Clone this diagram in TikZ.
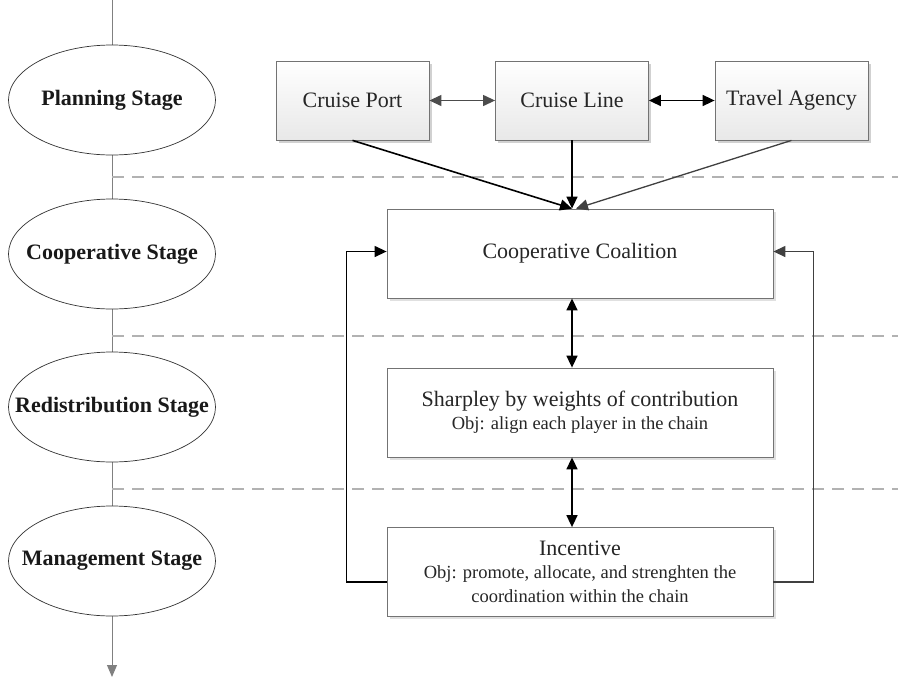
\documentclass[tikz,border=0pt]{standalone}
\usepackage{fontspec}
\setmainfont{Liberation Serif}
\usetikzlibrary{arrows.meta,shapes.geometric,shadows}

\newcommand{\objtext}{\fontsize{18.5}{24.5}\selectfont}

\begin{document}
\begin{tikzpicture}[x=1pt, y=-1pt,
  every node/.style={font=\fontsize{22}{25}\selectfont, text=black!85},
  stage/.style={ellipse, draw=black!80, fill=white, line width=0.7pt,
    minimum width=207pt, minimum height=110pt, inner sep=0pt},
  stagetext/.style={font=\bfseries\fontsize{22}{25}\selectfont, text=black!90},
  party/.style={draw=black!55, line width=0.8pt, top color=white, bottom color=black!9,
    minimum width=153pt, minimum height=79pt,
    drop shadow={shadow xshift=2.5pt, shadow yshift=-2.5pt, fill=black!18, opacity=1}},
  block/.style={draw=black!55, line width=0.8pt, fill=white, align=center,
    minimum width=386pt, minimum height=89pt,
    drop shadow={shadow xshift=2.5pt, shadow yshift=-2.5pt, fill=black!12, opacity=1}},
  link/.style={-{Triangle[length=12pt,width=11pt]}, line width=1.6pt},
  twoway/.style={{Triangle[length=12pt,width=11pt]}-{Triangle[length=12pt,width=11pt]}, line width=1.6pt},
  timeline/.style={draw=black!50, line width=1pt},
  sep/.style={draw=black!30, line width=1.2pt, dash pattern=on 12pt off 8pt}]

  \useasboundingbox (0,0) rectangle (898,678);

  %% Left: stage timeline
  \coordinate (top) at (112,0);
  \coordinate (bottom) at (112,677);
  \draw[timeline] (top) -- (112,100);
  \draw[timeline, -{Triangle[length=12pt,width=10pt]}] (112,100) -- (bottom);

  % Separators between the stages
  \foreach \ysep in {177,336,489}
    \draw[sep] (112,\ysep) -- (898,\ysep);

  \node[stage, label={[stagetext]center:Planning Stage}]       (plan)   at (112,100) {};
  \node[stage, label={[stagetext]center:Cooperative Stage}]    (coop)   at (112,254) {};
  \node[stage, label={[stagetext]center:Redistribution Stage}] (redist) at (112,407) {};
  \node[stage, label={[stagetext]center:Management Stage}]     (manage) at (112,561) {};

  %% Right: players
  \node[party] (port)   at (352.5,100.5) {Cruise Port};
  \node[party] (line)   at (572,100.5)   {Cruise Line};
  \node[party] (agency) at (791.5,100.5) {Travel Agency};

  \draw[twoway, black!70, line width=1.2pt] (port) -- (line);
  \draw[twoway] (line) -- (agency);

  %% Coalition and its mechanisms
  \node[block] (coal)  at (580,253.5) {Cooperative Coalition};
  \node[block] (sharp) at (580,412.5)
    {Sharpley by weights of contribution\\[-2pt]
     {\objtext Obj: align each player in the chain}};
  \node[block] (inc)   at (580,572)
    {Incentive\\[-2pt]
     {\objtext Obj: promote, allocate, and strenghten the}\\[-1pt]
     {\objtext coordination within the chain}};

  % Players into the coalition
  \draw[link] (port.south) -- (line.south |- coal.north);
  \draw[link] (line.south) -- (line.south |- coal.north);
  \draw[link, black!75, line width=1.3pt] (agency.south) -- ([xshift=4pt]line.south |- coal.north);

  % Coalition <-> mechanisms
  \draw[twoway] (line.south |- coal.south) -- (line.south |- sharp.north);
  \draw[twoway] (line.south |- sharp.south) -- (line.south |- inc.north);

  % Feedback from incentive back to the coalition
  \draw[link, line width=1.3pt] ([yshift=-10pt]inc.west) -- ++(-40,0) |- ([yshift=2pt]coal.west);
  \draw[link, black!75, line width=1.3pt] ([yshift=-10pt]inc.east) -- ++(40,0) |- ([yshift=2pt]coal.east);

\end{tikzpicture}
\end{document}
